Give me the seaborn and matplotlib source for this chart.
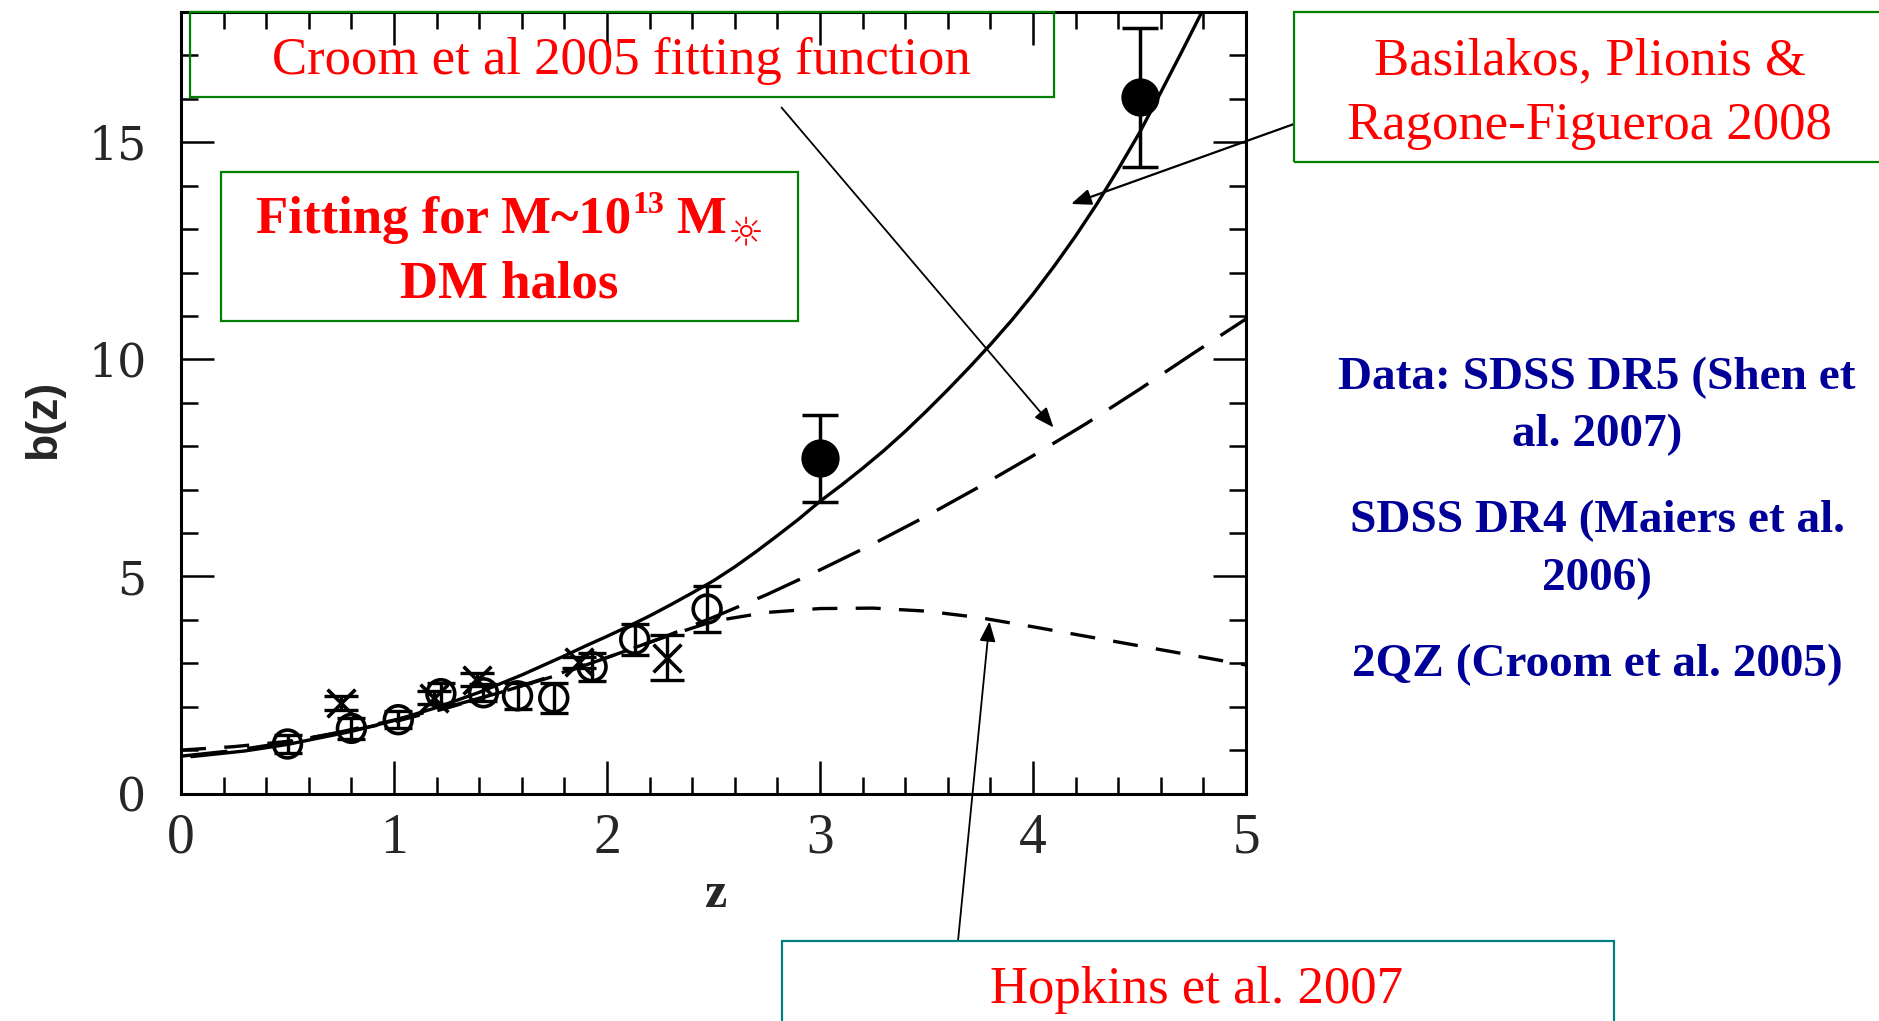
import numpy as np
import pandas as pd
import matplotlib
matplotlib.use("Agg")
import matplotlib.pyplot as plt
import seaborn as sns
from matplotlib.patches import Rectangle
from matplotlib.ticker import MultipleLocator

# ---------------- data ----------------
z_basilakos = [0.05, 0.30, 0.50, 0.80, 1.00, 1.20, 1.40, 1.60, 1.80, 1.90, 2.00, 2.10, 2.20,
               2.30, 2.40, 2.50, 2.60, 2.70, 2.80, 2.90, 3.00, 3.10, 3.20, 3.30, 3.40,
               3.50, 3.60, 3.70, 3.80, 3.90, 4.00, 4.10, 4.20, 4.30, 4.40, 4.50, 4.60,
               4.70, 4.80]
b_basilakos = [0.85, 0.98, 1.13, 1.43, 1.68, 1.98, 2.33, 2.73, 3.17, 3.40, 3.62, 3.85, 4.09,
               4.35, 4.62, 4.90, 5.22, 5.57, 5.94, 6.32, 6.73, 7.10, 7.49, 7.90, 8.34,
               8.81, 9.30, 9.81, 10.34, 10.90, 11.50, 12.15, 12.84, 13.58, 14.38, 15.22, 16.15,
               17.10, 18.07]

z_croom = [0.0, 0.25, 0.5, 0.75, 1.0, 1.25, 1.5, 1.75, 2.0, 2.25, 2.5, 2.75, 3.0,
           3.25, 3.5, 3.75, 4.0, 4.25, 4.5, 4.75, 5.0]
b_croom = [0.86, 0.99, 1.18, 1.42, 1.69, 1.99, 2.33, 2.70, 3.13, 3.57, 4.06, 4.58, 5.15,
           5.75, 6.39, 7.07, 7.78, 8.52, 9.31, 10.13, 10.93]

z_hopkins = [0.0, 0.25, 0.5, 0.75, 1.0, 1.25, 1.5, 1.75, 2.0, 2.25, 2.5, 2.75, 3.0,
             3.25, 3.5, 3.75, 4.0, 4.25, 4.5, 4.75, 5.0]
b_hopkins = [1.00, 1.08, 1.20, 1.40, 1.65, 1.97, 2.33, 2.72, 3.13, 3.57, 3.97, 4.17, 4.26,
             4.27, 4.20, 4.05, 3.84, 3.62, 3.40, 3.18, 2.96]

# 2QZ (Croom et al. 2005) - open circles
z_2qz = [0.50, 0.80, 1.02, 1.22, 1.42, 1.58, 1.75, 1.93, 2.13, 2.47]
b_2qz = [1.14, 1.50, 1.70, 2.30, 2.32, 2.25, 2.20, 2.92, 3.55, 4.25]
e_2qz = [0.20, 0.25, 0.20, 0.25, 0.20, 0.30, 0.35, 0.32, 0.36, 0.53]

# SDSS DR4 (Myers et al. 2006) - crosses
z_dr4 = [0.75, 1.19, 1.39, 1.87, 2.28]
b_dr4 = [2.08, 2.20, 2.62, 3.02, 3.13]
e_dr4 = [0.16, 0.15, 0.15, 0.12, 0.52]

# SDSS DR5 (Shen et al. 2007) - filled circles
z_dr5 = [3.0, 4.5]
b_dr5 = [7.72, 16.04]
e_dr5 = [1.00, 1.60]

x_ticks = [0, 1, 2, 3, 4, 5]
y_ticks = [0, 5, 10, 15]

# ---------------- figure ----------------
W, H = 1879, 1021
sns.set_style("ticks")
plt.rcParams["font.family"] = ["Liberation Serif", "DejaVu Sans"]

fig = plt.figure(figsize=(W / 100, H / 100), dpi=100)
ax = fig.add_axes([181 / W, 1 - 793.5 / H, (1246 - 181) / W, (793.5 - 12) / H])


def fp(x, y):
    return (x / W, 1 - y / H)


# curves
df_b = pd.DataFrame({"z": z_basilakos, "b": b_basilakos})
df_c = pd.DataFrame({"z": z_croom, "b": b_croom})
df_h = pd.DataFrame({"z": z_hopkins, "b": b_hopkins})
sns.lineplot(data=df_b, x="z", y="b", ax=ax, color="black", lw=2.4, sort=False,
             estimator=None)
sns.lineplot(data=df_c, x="z", y="b", ax=ax, color="black", lw=2.4, sort=False,
             estimator=None, linestyle=(0, (14, 6)))
sns.lineplot(data=df_h, x="z", y="b", ax=ax, color="black", lw=2.4, sort=False,
             estimator=None, linestyle=(0, (7.5, 5.5)))

# error bars
ax.errorbar(z_2qz, b_2qz, yerr=e_2qz, fmt="none", ecolor="black", elinewidth=2.4,
            capsize=10, capthick=2.4, zorder=3)
ax.errorbar(z_dr4, b_dr4, yerr=e_dr4, fmt="none", ecolor="black", elinewidth=2.4,
            capsize=12, capthick=2.4, zorder=3)
ax.errorbar(z_dr5, b_dr5, yerr=e_dr5, fmt="none", ecolor="black", elinewidth=2.5,
            capsize=13, capthick=2.5, zorder=3)

# markers
sns.scatterplot(x=z_2qz, y=b_2qz, ax=ax, marker="o", s=400, facecolor="none",
                edgecolor="black", linewidth=2.6, zorder=4)
sns.scatterplot(x=z_dr4, y=b_dr4, ax=ax, marker="x", s=400, color="black",
                linewidth=2.6, zorder=4)
sns.scatterplot(x=z_dr5, y=b_dr5, ax=ax, marker="o", s=650, color="black",
                edgecolor="black", zorder=4)

# axes styling
ax.set_xlim(0, 5)
ax.set_ylim(0, 18)
ax.set_xticks(x_ticks)
ax.set_yticks(y_ticks)
ax.set_xticklabels([str(v) for v in x_ticks], family="Liberation Serif", fontsize=40)
ax.set_yticklabels([str(v) for v in y_ticks], family="DejaVu Serif", fontsize=33)
ax.xaxis.set_minor_locator(MultipleLocator(0.2))
ax.yaxis.set_minor_locator(MultipleLocator(1))
ax.tick_params(which="both", direction="in", top=True, right=True, color="black",
               width=1.8)
ax.tick_params(which="major", length=24)
ax.tick_params(which="minor", length=12)
ax.tick_params(axis="x", which="major", pad=14)
ax.tick_params(axis="y", which="major", pad=25)
for sp in ax.spines.values():
    sp.set_linewidth(2.2)
    sp.set_color("black")
    sp.set_visible(True)

ax.set_xlabel("z", family="Liberation Serif", weight="bold", fontsize=36)
ax.xaxis.label.set_va("baseline")
ax.xaxis.set_label_coords((716 - 181) / 1065, (793.5 - 907) / 781.5)
ax.set_ylabel("b(z)", family="Liberation Sans", weight="bold", fontsize=32)
ax.yaxis.label.set_va("center")
ax.yaxis.set_label_coords((44 - 181) / 1065, (793.5 - 419) / 781.5)

# ---------------- annotation boxes ----------------
def box(x0, y0, x1, y1, color):
    r = Rectangle(fp(x0, y1), (x1 - x0) / W, (y1 - y0) / H, transform=fig.transFigure,
                  fill=False, edgecolor=color, lw=1.6, zorder=5, clip_on=False)
    fig.patches.append(r)


red = "#ff0000"
box(190, 12.5, 1054, 97.5, "#008000")
fig.text(*fp(621.5, 74), "Croom et al 2005 fitting function", color=red, fontsize=38,
         family="Liberation Serif", ha="center", va="baseline")

box(1294, 12.5, 1900, 161.5, "#008000")
fig.text(*fp(1590, 74), "Basilakos, Plionis &", color=red, fontsize=38,
         family="Liberation Serif", ha="center", va="baseline")
fig.text(*fp(1589, 138.5), "Ragone-Figueroa 2008", color=red, fontsize=38,
         family="Liberation Serif", ha="center", va="baseline")

box(221, 172.5, 798, 321.5, "#008000")
renderer = fig.canvas.get_renderer()
pieces = [("Fitting for M~10", dict(fontsize=38, weight="bold", family="Liberation Serif"), 0, 0),
          ("13", dict(fontsize=23, weight="bold", family="Liberation Serif"), 20, 2),
          ("M", dict(fontsize=38, weight="bold", family="Liberation Serif"), 0, 12),
          ("\u263c", dict(fontsize=29, family="DejaVu Sans"), -12, 1)]
made = []
for s, kw, dy, gap in pieces:
    t = fig.text(0, 0, s, color=red, ha="left", va="baseline", **kw)
    made.append((t, dy, gap))
widths = [t.get_window_extent(renderer).width for t, _, _ in made]
total = sum(widths) + sum(g for _, _, g in made)
xc = 509.5 - total / 2
for (t, dy, gap), w in zip(made, widths):
    xc += gap
    t.set_position(fp(xc, 233 - dy))
    xc += w
fig.text(*fp(509.5, 297.5), "DM halos", color=red, fontsize=38, weight="bold",
         family="Liberation Serif", ha="center", va="baseline")

box(782, 941, 1614, 1040, "#008080")
fig.text(*fp(1196, 1002.5), "Hopkins et al. 2007", color=red, fontsize=38,
         family="Liberation Serif", ha="center", va="baseline")

blue = "#000099"
for txt, yb in [("Data: SDSS DR5 (Shen et", 389.5), ("al. 2007)", 446),
                ("SDSS DR4 (Maiers et al.", 532.5), ("2006)", 590),
                ("2QZ (Croom et al. 2005)", 676)]:
    fig.text(*fp(1597, yb), txt, color=blue, fontsize=34, weight="bold",
             family="Liberation Serif", ha="center", va="baseline")

# ---------------- arrows ----------------
def arrow(x0, y0, x1, y1, lw):
    ax.annotate("", xy=fp(x1, y1), xycoords="figure fraction",
                xytext=fp(x0, y0), textcoords="figure fraction",
                arrowprops=dict(arrowstyle="-|>,head_length=0.55,head_width=0.22",
                                mutation_scale=22, color="black", lw=lw,
                                shrinkA=0, shrinkB=0),
                annotation_clip=False, zorder=6)


arrow(781.5, 107.5, 1053.5, 427.5, 1.3)
arrow(1294, 124, 1071, 204, 1.6)
arrow(958, 941, 989.5, 621.5, 1.3)

fig.savefig("out.png", dpi=100)
